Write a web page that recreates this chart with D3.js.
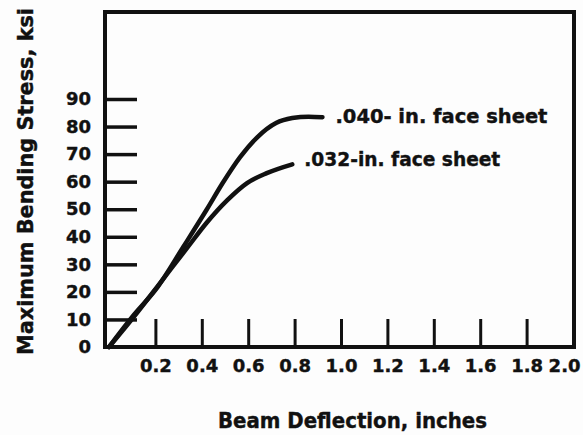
<!DOCTYPE html>
<html>
<head>
<meta charset="utf-8">
<script src="https://cdn.jsdelivr.net/npm/d3@7"></script>
<style>
  html, body { margin: 0; padding: 0; background: #fdfdfd; }
  svg text { font-family: "DejaVu Sans", sans-serif; font-weight: bold; fill: #111; stroke: #111; stroke-width: 0.4px; }
</style>
</head>
<body>
<div id="chart"></div>
<script>
// Beam deflection (in.) vs maximum bending stress (ksi)
const xTicks = [0.2, 0.4, 0.6, 0.8, 1.0, 1.2, 1.4, 1.6, 1.8];
const xTickLabels = ['0.2', '0.4', '0.6', '0.8', '1.0', '1.2', '1.4', '1.6', '1.8', '2.0'];
const yTicks = [10, 20, 30, 40, 50, 60, 70, 80, 90];
const yTickLabels = [0, 10, 20, 30, 40, 50, 60, 70, 80, 90];

const sheet040X = [0, 0.10, 0.21, 0.32, 0.42, 0.49, 0.565, 0.64, 0.72, 0.79, 0.86, 0.92];
const sheet040Y = [0, 10.9, 21.8, 36.3, 49.7, 59.5, 68.9, 76.2, 81.3, 83.1, 83.6, 83.4];
const sheet032X = [0, 0.12, 0.23, 0.34, 0.42, 0.51, 0.595, 0.68, 0.79];
const sheet032Y = [0, 12.3, 24.3, 36.3, 45.0, 53.3, 59.5, 63.1, 66.3];

const seriesNames = ['.040- in. face sheet', '.032-in. face sheet'];

const width = 583, height = 435;
const frame = { left: 105, top: 12, right: 574, bottom: 347 };

const svg = d3.select('#chart')
  .append('svg')
  .attr('width', width)
  .attr('height', height);

const x = d3.scaleLinear().domain([0, 2]).range([109, 573]);
const y = d3.scaleLinear().domain([0, 90]).range([347, 99]);

// Frame
svg.append('rect')
  .attr('x', frame.left)
  .attr('y', frame.top)
  .attr('width', frame.right - frame.left)
  .attr('height', frame.bottom - frame.top)
  .attr('fill', 'none')
  .attr('stroke', '#111')
  .attr('stroke-width', 4);

// Inner ticks on the left
const yTickAxis = svg.append('g')
  .attr('transform', `translate(${frame.left},0)`)
  .call(d3.axisRight(y).tickValues(yTicks).tickSize(32).tickFormat(''));
yTickAxis.select('.domain').remove();
yTickAxis.selectAll('line').attr('stroke', '#111').attr('stroke-width', 3.5);

// Inner ticks on the bottom
const xTickAxis = svg.append('g')
  .attr('transform', `translate(0,${frame.bottom})`)
  .call(d3.axisTop(x).tickValues(xTicks).tickSize(28).tickFormat(''));
xTickAxis.select('.domain').remove();
xTickAxis.selectAll('line').attr('stroke', '#111').attr('stroke-width', 3);

// Y tick labels
const yLab = svg.append('g')
  .attr('transform', `translate(${frame.left},0)`)
  .call(d3.axisLeft(y).tickValues(yTickLabels).tickSize(0).tickPadding(14));
yLab.select('.domain').remove();
yLab.selectAll('text')
  .style('font-family', '"DejaVu Sans", sans-serif')
  .style('font-weight', 'bold')
  .style('font-size', '18px')
  .attr('fill', '#111');

// X tick labels
const xLab = svg.append('g')
  .attr('transform', `translate(0,${frame.bottom})`)
  .call(d3.axisBottom(x)
    .tickValues(xTickLabels.map(Number))
    .tickSize(0).tickPadding(12)
    .tickFormat((d, i) => xTickLabels[i]));
xLab.select('.domain').remove();
xLab.selectAll('text')
  .style('font-family', '"DejaVu Sans", sans-serif')
  .style('font-weight', 'bold')
  .style('font-size', '18px')
  .attr('fill', '#111')
  .attr('text-anchor', d => d === 2 ? 'end' : 'middle')
  .attr('dx', d => d === 2 ? 7 : 0);

// Curves
const line = d3.line()
  .x(d => x(d[0]))
  .y(d => y(d[1]))
  .curve(d3.curveMonotoneX);

const series = [
  { name: seriesNames[0], pts: d3.zip(sheet040X, sheet040Y), dx: 13, dy: 6, len: 212 },
  { name: seriesNames[1], pts: d3.zip(sheet032X, sheet032Y), dx: 12, dy: 2, len: 196 }
];

svg.selectAll('.curve')
  .data(series)
  .enter().append('path')
  .attr('class', 'curve')
  .attr('fill', 'none')
  .attr('stroke', '#111')
  .attr('stroke-width', 4.5)
  .attr('stroke-linecap', 'round')
  .attr('d', d => line(d.pts));

svg.selectAll('.curve-label')
  .data(series)
  .enter().append('text')
  .attr('class', 'curve-label')
  .attr('x', d => x(d.pts[d.pts.length - 1][0]) + d.dx)
  .attr('y', d => y(d.pts[d.pts.length - 1][1]) + d.dy)
  .attr('textLength', d => d.len)
  .attr('lengthAdjust', 'spacingAndGlyphs')
  .style('font-size', '19px')
  .text(d => d.name);

// Axis titles
svg.append('text')
  .attr('x', 218)
  .attr('y', 428)
  .attr('textLength', 269)
  .attr('lengthAdjust', 'spacingAndGlyphs')
  .style('font-size', '21px')
  .text('Beam  Deflection, inches');

svg.append('text')
  .attr('transform', 'translate(33,355) rotate(-90)')
  .attr('textLength', 347)
  .attr('lengthAdjust', 'spacingAndGlyphs')
  .style('font-size', '21px')
  .text('Maximum  Bending  Stress, ksi');
</script>
</body>
</html>
